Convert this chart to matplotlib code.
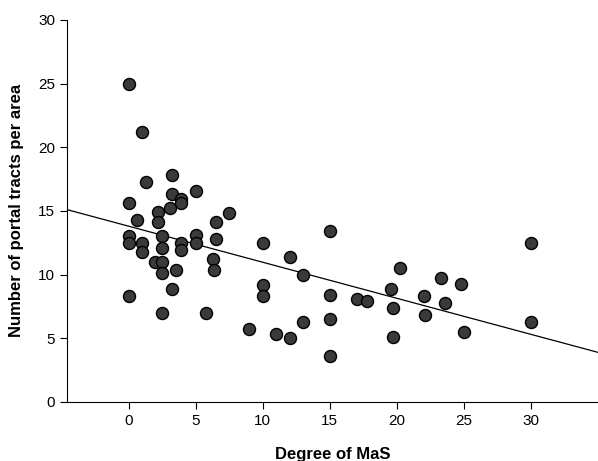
import matplotlib
matplotlib.use("Agg")
import matplotlib.pyplot as plt
import numpy as np

plt.rcParams['font.family'] = ['Liberation Sans', 'DejaVu Sans']

mas = [0,0,0,0,0,0.6,1,1,1,1.3,2,2.2,2.2,2.5,2.5,2.5,2.5,2.5,3.2,3.2,3.1,3.2,3.5,3.9,3.9,3.9,3.9,
       5,5,5,5.8,6.3,6.4,6.5,6.5,7.5,9,10,10,10,11,12,12,13,13,15,15,15,15,17,17.8,19.6,19.7,19.7,
       20.2,22,22.1,23.3,23.6,24.8,25,30,30]
tracts = [25,15.6,13.0,12.5,8.3,14.3,21.2,12.5,11.8,17.3,11.0,14.9,14.1,11.0,13.0,12.1,10.1,7.0,17.8,16.3,15.2,8.9,10.4,15.9,15.6,12.5,11.9,
          16.6,13.1,12.5,7.0,11.2,10.4,14.1,12.8,14.8,5.7,12.5,9.2,8.3,5.3,11.4,5.0,10.0,6.3,13.4,8.4,6.5,3.6,8.1,7.9,8.9,7.4,5.1,
          10.5,8.3,6.8,9.7,7.8,9.3,5.5,12.5,6.3]
intercept, slope = 13.8, -0.283

fig = plt.figure(figsize=(5.98, 4.61), dpi=100)
ax = fig.add_axes([0.112, 0.128, 0.888, 0.829])
xl = (-4.6, 35)
ax.plot(xl, [intercept + slope*v for v in xl], color='black', lw=0.9, zorder=1)
ax.scatter(mas, tracts, s=75, color='#3a3a3a', edgecolors='black', linewidths=1.0, zorder=2)
ax.set_xlim(*xl)
ax.set_ylim(0, 30)
ax.set_xticks([0,5,10,15,20,25,30])
ax.set_yticks([0,5,10,15,20,25,30])
for s in ['top', 'right']:
    ax.spines[s].set_visible(False)
ax.tick_params(labelsize=11, direction='out', length=5)
ax.set_xlabel('Degree of MaS', fontsize=12, fontweight='bold', labelpad=14)
ax.set_ylabel('Number of portal tracts per area', fontsize=12, fontweight='bold', labelpad=10)
fig.savefig('out.png', dpi=100)
